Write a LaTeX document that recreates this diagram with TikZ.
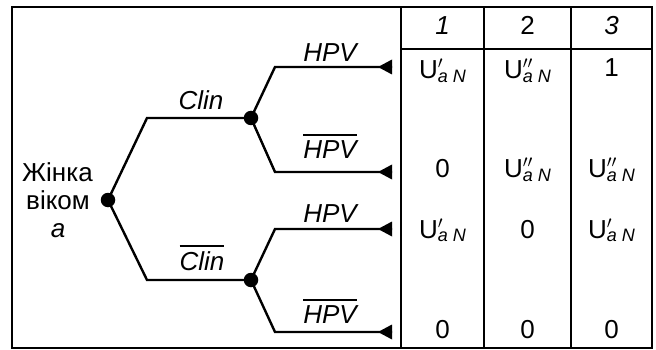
\documentclass[tikz,border=0pt]{standalone}
\usepackage{fontspec}
\setmainfont{Liberation Sans}
\newcommand{\ovl}[1]{\vbox{\hrule height 1.6pt\kern 4.5pt\hbox{#1}}}
\newcommand{\pr}{\fontsize{18}{18}\selectfont$\prime$}
\newcommand{\Uan}[1]{U\rlap{\raisebox{10pt}{#1}}\raisebox{-3.5pt}{\fontsize{18}{18}\selectfont\itshape a N}}
\tikzset{
  tdot/.style={circle,fill=black,inner sep=0pt,minimum size=14.5pt},
  branch/.style={line width=2.4pt,line join=miter},
  frame/.style={line width=2.6pt},
  grid/.style={line width=2.1pt},
  lbl/.style={inner sep=0pt,anchor=base,font=\fontsize{26}{30}\selectfont\itshape},
  cell/.style={inner sep=0pt,anchor=base,font=\fontsize{26}{30}\selectfont},
  tipstyle/.style={fill=black}
}
\begin{document}
\begin{tikzpicture}[x=1pt,y=-1pt]
\useasboundingbox (0,0) rectangle (656,350);
% frame and table
\draw[frame] (12,7) rectangle (652,348);
\draw[grid] (401,7) -- (401,348);
\draw[grid] (484,7) -- (484,348);
\draw[grid] (571,7) -- (571,348);
\draw[grid] (401,49) -- (652,49);
% tree nodes
\node[tdot] (r) at (108,200) {};
\node[tdot] (n1) at (251,118) {};
\node[tdot] (n2) at (251,280) {};
\coordinate (c1) at (147,118);
\coordinate (c2) at (147,280);
\coordinate (k1) at (275,67);
\coordinate (k2) at (275,172);
\coordinate (k3) at (275,229);
\coordinate (k4) at (275,332);
\coordinate (l1) at (392,67);
\coordinate (l2) at (392,172);
\coordinate (l3) at (392,229);
\coordinate (l4) at (392,332);
\draw[branch] (r.center) -- (c1) -- (n1.center);
\draw[branch] (r.center) -- (c2) -- (n2.center);
\draw[branch] (n1.center) -- (k1) -- (l1);
\draw[branch] (n1.center) -- (k2) -- (l2);
\draw[branch] (n2.center) -- (k3) -- (l3);
\draw[branch] (n2.center) -- (k4) -- (l4);
\foreach \l in {l1,l2,l3,l4}
  \fill[tipstyle] (\l) ++(0,-7.5) -- ++(0,15) -- ++(-14,-7.5) -- cycle;
% branch labels
\node[lbl] (tclin) at (201,110) {Clin};
\node[lbl] (tnclin) at (202,270) {\ovl{Clin}};
\node[lbl] (th1) at (330,62) {HPV};
\node[lbl] (th2) at (330,158) {\ovl{HPV}};
\node[lbl] (th3) at (330,222) {HPV};
\node[lbl] (th4) at (330,323) {\ovl{HPV}};
% root label
\node[cell] (w1) at (57.5,182) {Жінка};
\node[cell] (w2) at (58,209) {віком};
\node[lbl] (w3) at (58,237) {a};
% header
\node[lbl] (h1) at (442.5,35) {1};
\node[cell] (h2) at (527.5,35) {2};
\node[lbl] (h3) at (611.5,35) {3};
% rows
\node[cell] (a1) at (442.5,79) {\Uan{\pr}};
\node[cell] (b1) at (527.5,79) {\Uan{\pr\pr}};
\node[cell] (c31) at (611.5,77) {1};
\node[cell] (a2) at (442.5,178) {0};
\node[cell] (b2) at (527.5,178) {\Uan{\pr\pr}};
\node[cell] (c32) at (611.5,178) {\Uan{\pr\pr}};
\node[cell] (a3) at (442.5,238) {\Uan{\pr}};
\node[cell] (b3) at (527.5,238) {0};
\node[cell] (c33) at (611.5,238) {\Uan{\pr}};
\node[cell] (a4) at (442.5,338) {0};
\node[cell] (b4) at (527.5,338) {0};
\node[cell] (c34) at (611.5,338) {0};
\end{tikzpicture}
\end{document}
